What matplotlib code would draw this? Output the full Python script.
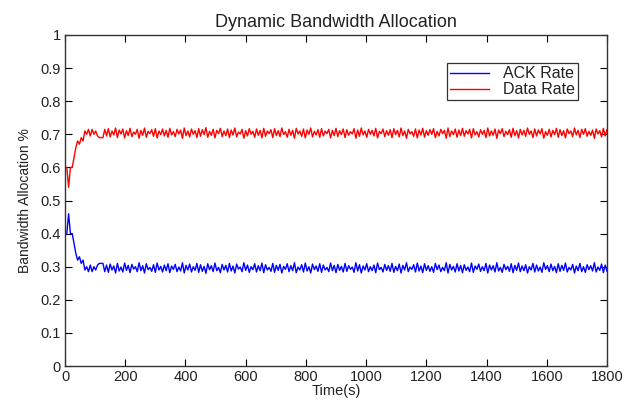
import numpy as np
import matplotlib
matplotlib.use("Agg")
import matplotlib.pyplot as plt

plt.rcParams['font.family'] = ['Liberation Sans', 'DejaVu Sans']

# Sample times (s) and rates in thousandths
time_s = list(range(6, 1801, 6))

ack_rate_milli = [
    400,460,400,400,370,340,320,330,310,320,
    290,300,285,305,285,300,290,305,310,310,
    310,285,305,283,308,290,302,281,310,287,
    299,284,311,289,304,282,307,293,300,285,
    312,288,303,281,309,291,298,286,306,283,
    311,290,301,284,305,288,309,282,302,292,
    307,285,299,287,312,281,304,290,308,284,
    300,289,310,283,306,286,301,280,309,291,
    303,285,311,288,298,282,307,290,304,284,
    310,287,302,281,308,293,299,285,312,289,
    305,283,300,291,309,284,303,288,311,282,
    306,290,298,286,310,283,304,289,307,281,
    301,292,309,285,303,288,312,282,299,290,
    306,284,311,287,300,281,308,291,302,286,
    309,283,305,290,298,285,311,288,304,282,
    307,289,301,284,310,286,303,292,299,283,
    312,287,306,281,302,290,309,285,300,288,
    305,282,311,291,298,284,307,289,303,286,
    310,283,301,288,308,281,304,290,312,285,
    299,292,306,284,311,287,302,282,309,289,
    303,286,300,283,310,291,305,285,298,288,
    312,281,307,290,301,284,309,287,304,282,
    306,289,299,285,311,283,302,292,308,286,
    300,288,310,281,305,290,303,284,312,287,
    298,283,307,291,301,286,309,282,304,289,
    311,285,302,288,306,281,300,290,310,284,
    305,287,299,283,312,292,303,285,308,288,
    301,282,309,286,304,289,311,284,298,290,
    307,281,302,288,310,285,300,283,306,291,
    303,287,312,284,299,289,308,282,305,286,
]

data_rate_milli = [
    600,540,600,600,630,660,680,670,690,680,
    710,700,715,695,715,700,710,695,690,690,
    690,715,695,717,692,710,698,719,690,713,
    701,716,689,711,696,718,693,707,700,715,
    688,712,697,719,691,709,702,714,694,717,
    689,710,699,716,695,712,691,718,698,708,
    693,715,701,713,688,719,696,710,692,716,
    700,711,690,717,694,714,699,720,691,709,
    697,715,689,712,702,718,693,710,696,716,
    690,713,698,719,692,707,701,715,688,711,
    695,717,700,709,691,716,697,712,689,718,
    694,710,702,714,690,717,696,711,693,719,
    699,708,691,715,697,712,688,718,701,710,
    694,716,689,713,700,719,692,709,698,714,
    691,717,695,710,702,715,689,712,696,718,
    693,711,699,716,690,714,697,708,701,717,
    688,713,694,719,698,710,691,715,700,712,
    695,718,689,709,702,716,693,711,697,714,
    690,717,699,712,692,719,696,710,688,715,
    701,708,694,716,689,713,698,718,691,711,
    697,714,700,717,690,709,695,715,702,712,
    688,719,693,710,699,716,691,713,696,718,
    694,711,701,715,689,717,698,708,692,714,
    700,712,690,719,695,710,697,716,688,713,
    702,717,693,709,699,714,691,718,696,711,
    689,715,698,712,694,719,700,710,690,716,
    695,713,701,717,688,708,697,715,692,712,
    699,718,691,714,696,711,689,716,702,710,
    693,719,698,712,690,715,700,717,694,709,
    697,713,688,716,701,711,692,718,695,714,
]

x_ticks = [0, 200, 400, 600, 800, 1000, 1200, 1400, 1600, 1800]
y_ticks = [0, 0.1, 0.2, 0.3, 0.4, 0.5, 0.6, 0.7, 0.8, 0.9, 1]
y_tick_labels = ['0', '0.1', '0.2', '0.3', '0.4', '0.5', '0.6', '0.7', '0.8', '0.9', '1']

t = np.array(time_s)
ack = np.array(ack_rate_milli) / 1000.0
dat = np.array(data_rate_milli) / 1000.0

fig = plt.figure(figsize=(6.37, 4.0), dpi=100)
ax = fig.add_axes([65/637, 34/400, 542/637, 331/400])

ax.plot(t, ack, color='#0000ff', lw=1.0, label='ACK Rate')
ax.plot(t, dat, color='#ff0000', lw=1.0, label='Data Rate')

ax.set_xlim(0, 1800)
ax.set_ylim(0, 1)
ax.set_xticks(x_ticks)
ax.set_yticks(y_ticks)
ax.set_yticklabels(y_tick_labels)
ax.tick_params(direction='in', length=5, width=0.8, top=True, right=True,
               labelsize=10.5, colors='black', labelcolor='#222222', pad=3)
for s in ax.spines.values():
    s.set_linewidth(1.0)
    s.set_color('#333333')

ax.set_title('Dynamic Bandwidth Allocation', fontsize=13, color='#222222', pad=6)
ax.set_xlabel('Time(s)', fontsize=10.5, labelpad=0, color='#222222')
ax.set_ylabel('Bandwidth Allocation %', fontsize=10, labelpad=6, color='#222222')

leg = ax.legend(loc='upper left', bbox_to_anchor=(0.705, 0.915), frameon=True,
                fancybox=False, shadow=False, fontsize=11.5, handlelength=2.4,
                borderpad=0.2, labelspacing=0.05, handletextpad=0.9, borderaxespad=0)
leg.get_frame().set_edgecolor('black')
leg.get_frame().set_linewidth(0.9)
for txt in leg.get_texts():
    txt.set_color('#222222')

fig.savefig('out.png', dpi=100, facecolor='white')
